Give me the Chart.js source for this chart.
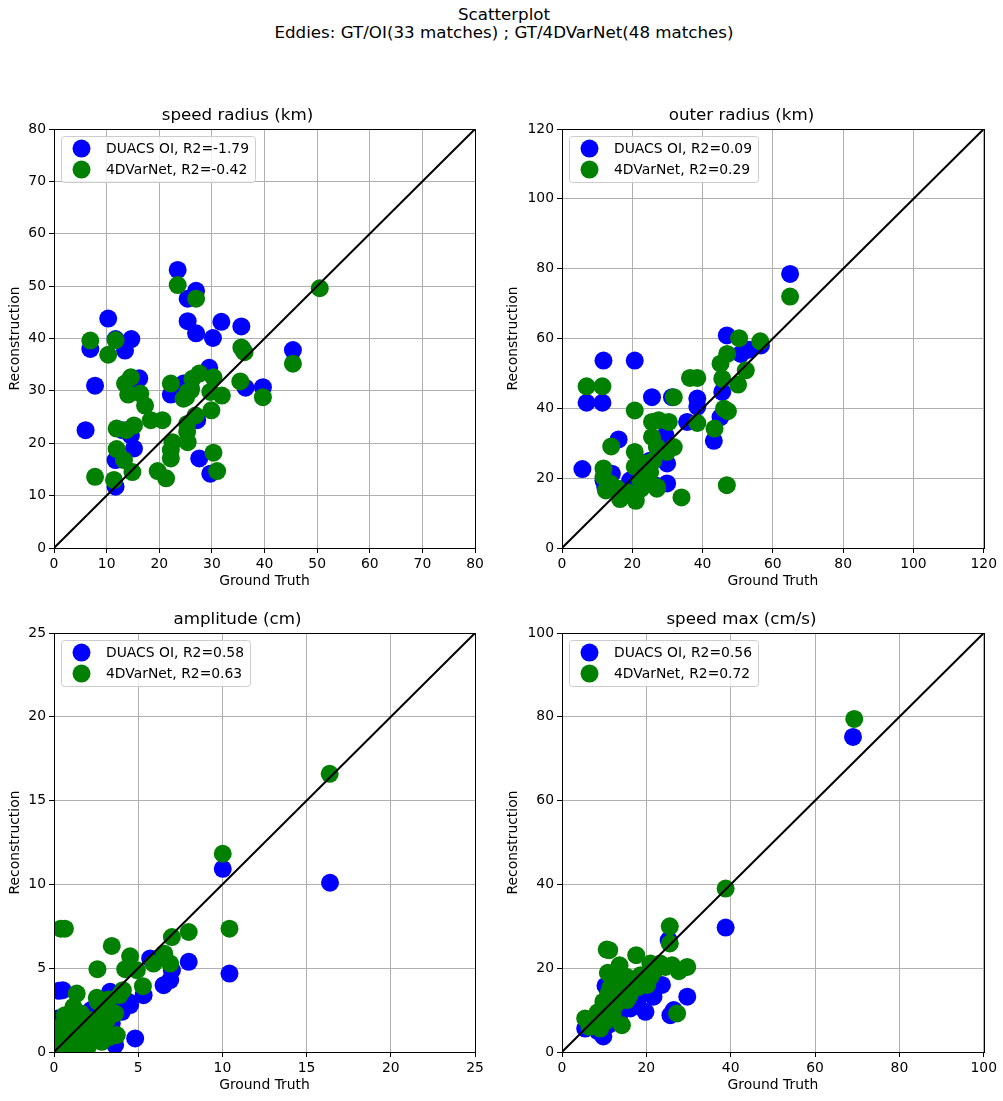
<!DOCTYPE html>
<html>
<head>
<meta charset="utf-8">
<script src="https://cdn.jsdelivr.net/npm/chart.js@4.4.1/dist/chart.umd.min.js"></script>
<style>
body { margin: 0; background: #fff; }
#fig { position: relative; width: 1003px; height: 1101px; font-family: "DejaVu Sans"; color: #000; }
#suptitle { position: absolute; top: 6px; left: 8px; width: 992px; text-align: center; font-size: 16.7px; line-height: 17.5px; }
.panel { position: absolute; }
</style>
</head>
<body>
<div id="fig">
  <div id="suptitle">Scatterplot<br>Eddies: GT/OI(33 matches) ; GT/4DVarNet(48 matches)</div>
  <canvas class="panel" id="c1" width="490" height="490" style="left:0px;top:100px"></canvas>
  <canvas class="panel" id="c2" width="502" height="490" style="left:498px;top:100px"></canvas>
  <canvas class="panel" id="c3" width="490" height="490" style="left:0px;top:604px"></canvas>
  <canvas class="panel" id="c4" width="502" height="490" style="left:498px;top:604px"></canvas>
</div>
<script>
// ground truth / reconstruction pairs
var speedRadiusOI = [[23.5,53.1],[27.0,49.1],[25.4,47.6],[10.3,43.8],[25.4,43.3],[27.0,41.0],[30.2,40.1],[14.7,39.9],[11.7,39.9],[6.9,38.0],[13.5,37.7],[7.8,31.0],[16.2,32.4],[29.5,34.4],[22.2,29.3],[24.6,31.4],[6.0,22.5],[14.6,21.5],[15.2,19.0],[11.7,16.8],[11.7,11.7],[27.6,17.1],[29.7,14.2],[27.2,24.4],[31.8,43.2],[35.6,42.3],[45.4,37.8],[36.4,30.6],[39.7,30.7],[13.0,22.5],[26.0,30.5],[14.5,29.8],[35.8,38.0]];
var speedRadiusVN = [[23.5,50.2],[27.0,47.6],[50.5,49.6],[6.9,39.6],[11.7,39.7],[10.3,36.9],[14.6,32.6],[13.5,31.4],[14.1,29.3],[16.4,29.5],[17.3,27.2],[18.4,24.4],[20.6,24.4],[22.2,31.4],[11.9,22.8],[15.2,23.4],[13.7,22.5],[11.9,18.9],[13.3,16.8],[14.9,14.5],[7.8,13.6],[11.4,13.0],[19.7,14.7],[21.3,13.3],[22.2,18.7],[22.2,17.1],[22.5,20.2],[25.1,28.8],[27.6,33.3],[26.3,32.3],[35.6,38.3],[36.2,37.4],[45.4,35.2],[30.3,32.6],[35.4,31.8],[25.4,29.8],[29.7,29.8],[31.9,29.1],[39.7,28.8],[29.9,26.3],[26.9,25.3],[25.3,23.7],[25.3,22.2],[25.4,20.2],[30.3,18.2],[31.0,14.7],[24.6,28.5],[26.0,30.1]];

var outerRadiusOI = [[11.8,53.7],[20.7,53.7],[7.0,41.6],[11.5,41.6],[5.8,22.6],[16.1,31.1],[25.6,43.2],[31.3,43.2],[14.2,21.3],[11.8,19.4],[12.3,17.5],[29.9,24.2],[29.9,18.5],[29.4,32.3],[19.4,19.4],[64.9,78.5],[46.9,60.9],[50.9,55.6],[53.2,56.8],[56.6,58.0],[38.5,42.8],[38.5,40.5],[45.6,44.7],[35.6,36.1],[45.1,37.5],[43.2,30.7],[16.5,16.5],[22.0,21.0],[25.0,25.0],[27.5,27.5],[28.0,30.0],[24.5,19.5],[26.5,18.0]];
var outerRadiusVN = [[7.0,46.3],[11.5,46.3],[20.7,39.4],[14.0,29.1],[11.8,22.8],[11.8,20.4],[20.7,27.5],[20.7,23.3],[25.6,36.1],[27.5,36.6],[30.4,36.1],[25.6,31.8],[27.0,28.9],[29.9,27.5],[31.8,28.9],[31.8,43.2],[23.2,24.2],[25.1,21.8],[27.0,17.5],[15.6,17.1],[17.5,15.1],[20.9,14.2],[13.7,18.5],[22.3,19.4],[64.9,72.0],[50.4,60.1],[56.4,59.2],[47.0,55.6],[45.1,52.8],[52.3,50.9],[45.6,48.5],[36.4,48.7],[38.5,48.7],[50.1,46.8],[46.1,39.9],[47.2,39.2],[38.5,35.8],[43.4,34.2],[46.9,18.0],[34.0,14.5],[27.0,17.0],[16.5,14.0],[18.5,16.0],[21.0,13.5],[24.0,20.5],[26.0,25.0],[22.5,17.0],[12.5,16.5]];

var amplitudeOI = [[0.52,3.69],[0.3,3.65],[0.26,2.0],[0.16,1.51],[0.0,1.6],[4.82,0.81],[3.63,0.42],[8.0,5.38],[6.51,3.99],[6.9,4.29],[7.0,4.88],[5.71,5.58],[5.32,3.39],[4.52,2.8],[4.03,2.4],[3.33,3.59],[3.43,1.71],[1.15,1.9],[1.94,1.31],[2.34,0.91],[1.15,0.52],[2.74,2.0],[10.02,10.93],[16.39,10.1],[10.42,4.68],[0.6,0.9],[1.6,0.3],[2.9,1.2],[3.8,3.0],[4.4,3.0],[0.4,0.2],[2.2,2.5],[6.0,5.5]];
var amplitudeVN = [[0.4,7.36],[0.65,7.36],[3.43,6.33],[2.58,4.94],[4.52,5.71],[4.23,4.94],[4.92,4.88],[5.91,5.28],[6.55,5.87],[7.0,6.86],[8.0,7.16],[6.9,5.28],[4.09,3.69],[5.28,3.93],[1.35,3.49],[2.54,3.23],[3.24,3.13],[1.15,2.7],[0.65,2.2],[3.63,2.3],[2.84,1.61],[1.35,1.41],[0.36,0.91],[3.73,1.01],[2.84,0.61],[1.65,0.52],[10.02,11.83],[10.42,7.36],[16.37,16.6],[1.0,1.0],[0.8,0.3],[1.9,0.9],[2.2,1.9],[1.6,2.3],[3.0,2.5],[0.2,0.5],[1.2,0.1],[2.0,0.3],[3.3,0.9],[0.5,1.6],[1.1,2.0],[2.6,3.0],[1.8,1.3],[3.9,3.4],[0.9,0.6],[1.4,0.8],[2.4,1.4],[3.1,1.8]];

var speedMaxOI = [[10.3,15.8],[23.7,16.0],[21.7,13.2],[19.8,9.6],[17.8,11.6],[29.7,13.2],[25.7,8.8],[26.5,10.0],[9.8,3.7],[5.5,5.6],[16.2,10.4],[25.3,26.7],[38.8,29.7],[69.0,75.2],[6.5,6.5],[8.5,5.0],[11.0,6.5],[12.0,10.0],[13.0,12.5],[14.5,13.0],[15.5,14.5],[17.0,16.0],[18.5,13.5],[20.0,17.0],[11.5,12.0],[13.5,8.0],[14.0,15.0],[16.5,12.5],[19.0,15.0],[21.0,16.0],[10.0,9.0],[12.5,14.5],[8.0,7.5]];
var speedMaxVN = [[25.56,30.0],[25.56,25.9],[10.6,24.44],[11.2,24.3],[17.6,23.1],[13.65,20.7],[20.95,21.1],[23.3,21.1],[26.1,20.7],[29.7,20.3],[27.7,19.3],[10.87,18.9],[12.2,17.5],[15.4,17.9],[18.6,18.3],[20.2,16.0],[14.2,16.3],[9.8,12.0],[13.0,11.6],[15.4,12.4],[11.4,8.8],[5.5,8.0],[7.45,6.43],[9.05,5.6],[14.2,6.4],[27.3,9.2],[69.3,79.5],[38.8,39.0],[12.0,15.0],[16.5,15.0],[19.0,17.0],[22.0,19.5],[24.5,20.3],[11.0,14.0],[13.0,13.0],[14.5,14.5],[17.5,16.0],[10.0,10.5],[12.0,9.0],[8.5,9.5],[10.5,7.5],[6.5,6.0],[9.0,8.0],[16.0,13.5],[18.0,15.5],[12.5,12.0],[21.0,18.0],[11.5,15.5]];

var panelTitles = ['speed radius (km)', 'outer radius (km)', 'amplitude (cm)', 'speed max (cm/s)'];
var r2OI = ['-1.79', '0.09', '0.58', '0.56'];
var r2VN = ['-0.42', '0.29', '0.63', '0.72'];
var axisMax = [80, 120, 25, 100];
var tickStep = [10, 20, 5, 20];

Chart.defaults.font.family = '"DejaVu Sans"';
Chart.defaults.font.size = 13.9;
Chart.defaults.color = '#000';

function pts(arr) {
  return arr.map(function (p) { return {x: p[0], y: p[1]}; });
}

// black box around the axes, like matplotlib spines
var frame = {
  id: 'frame',
  afterDatasetsDraw: function (chart) {
    var a = chart.chartArea, ctx = chart.ctx;
    ctx.save();
    ctx.strokeStyle = '#000';
    ctx.lineWidth = 1;
    ctx.strokeRect(Math.round(a.left) + 0.5, Math.round(a.top) + 0.5,
      Math.round(a.right) - Math.round(a.left), Math.round(a.bottom) - Math.round(a.top));
    ctx.restore();
  }
};

// legend box in the upper left corner of the plot area
var legendBox = {
  id: 'legendBox',
  afterDraw: function (chart) {
    var a = chart.chartArea, ctx = chart.ctx;
    var items = chart.data.datasets.filter(function (d) { return d.label; });
    items.sort(function (p, q) { return q.order - p.order; });
    ctx.save();
    ctx.font = '13.9px "DejaVu Sans"';
    var w = 0;
    items.forEach(function (d) { w = Math.max(w, ctx.measureText(d.label).width); });
    var x = Math.round(a.left) + 7.5, y = Math.round(a.top) + 7.5;
    var bw = 45 + w + 6, bh = 46;
    ctx.beginPath();
    ctx.roundRect(x, y, bw, bh, 3);
    ctx.fillStyle = 'rgba(255,255,255,0.8)';
    ctx.fill();
    ctx.strokeStyle = '#cccccc';
    ctx.lineWidth = 1;
    ctx.stroke();
    items.forEach(function (d, i) {
      var cy = a.top + 19.5 + i * 21;
      ctx.beginPath();
      ctx.arc(a.left + 27.5, cy, 9, 0, Math.PI * 2);
      ctx.fillStyle = d.backgroundColor;
      ctx.fill();
      ctx.fillStyle = '#000';
      ctx.textBaseline = 'middle';
      ctx.fillText(d.label, a.left + 52, cy + 1);
    });
    ctx.restore();
  }
};

function makePanel(id, k, oi, vn, yWidth) {
  var max = axisMax[k];
  new Chart(document.getElementById(id), {
    type: 'scatter',
    data: {
      datasets: [
        {
          data: [{x: 0, y: 0}, {x: max, y: max}],
          showLine: true,
          borderColor: '#000',
          borderWidth: 2,
          pointRadius: 0,
          clip: 0,
          order: 0
        },
        {
          label: '4DVarNet, R2=' + r2VN[k],
          data: pts(vn),
          backgroundColor: '#008000',
          borderWidth: 0,
          pointRadius: 9,
          clip: 0,
          order: 1
        },
        {
          label: 'DUACS OI, R2=' + r2OI[k],
          data: pts(oi),
          backgroundColor: '#0000ff',
          borderWidth: 0,
          pointRadius: 9,
          clip: 0,
          order: 2
        }
      ]
    },
    options: {
      responsive: false,
      animation: false,
      events: [],
      layout: { padding: { left: 0, right: 15, top: 0, bottom: 0 } },
      plugins: {
        legend: { display: false },
        tooltip: { enabled: false },
        title: {
          display: true,
          text: panelTitles[k],
          font: { size: 16.7, weight: 'normal' },
          color: '#000',
          padding: { top: 6, bottom: 3 }
        }
      },
      scales: {
        x: {
          type: 'linear',
          min: 0,
          max: max,
          afterFit: function (s) { s.height = 42; },
          ticks: { stepSize: tickStep[k], padding: 3, maxRotation: 0 },
          grid: { color: '#b0b0b0', lineWidth: 1, tickColor: '#000', tickLength: 5 },
          border: { color: '#000', width: 1 },
          title: { display: true, text: 'Ground Truth', padding: { top: 0, bottom: 0 } }
        },
        y: {
          type: 'linear',
          min: 0,
          max: max,
          afterFit: function (s) { s.width = yWidth; },
          ticks: { stepSize: tickStep[k], padding: 3 },
          grid: { color: '#b0b0b0', lineWidth: 1, tickColor: '#000', tickLength: 5 },
          border: { color: '#000', width: 1 },
          title: { display: true, text: 'Reconstruction', padding: { top: 7, bottom: 0 } }
        }
      }
    },
    plugins: [frame, legendBox]
  });
}

makePanel('c1', 0, speedRadiusOI, speedRadiusVN, 54);
makePanel('c2', 1, outerRadiusOI, outerRadiusVN, 64);
makePanel('c3', 2, amplitudeOI, amplitudeVN, 54);
makePanel('c4', 3, speedMaxOI, speedMaxVN, 64);
</script>
</body>
</html>
